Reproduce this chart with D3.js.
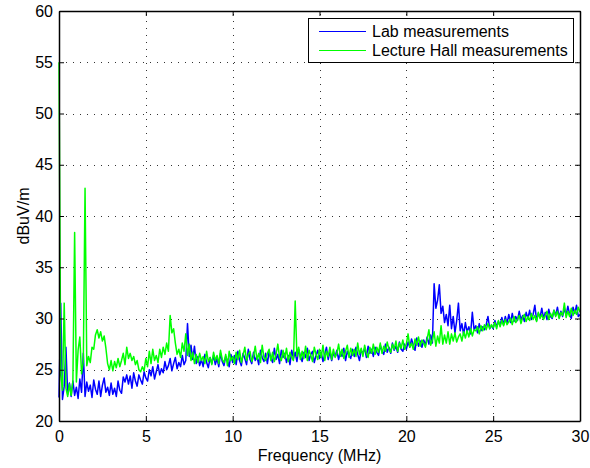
<!DOCTYPE html>
<html>
<head>
<meta charset="utf-8">
<script src="https://cdn.jsdelivr.net/npm/d3@7"></script>
<style>
  html, body { margin: 0; padding: 0; background: #fff; }
  text { font-family: "Liberation Sans", Arial, Helvetica, sans-serif; }
</style>
</head>
<body>
<svg id="chart" width="590" height="468"></svg>
<script>
// Frequency grid: 0 to 30 MHz in 0.1 MHz steps
const stepMHz = 0.1;

// Field strength, dBuV/m, lab measurements (one row per MHz)
const labValues = [
  22.3, 31.5, 22.1, 23.4, 27.2, 22.6, 23.7, 22.4, 23.9, 22.5,
  23.3, 22.2, 24.1, 22.8, 26.6, 22.4, 23.8, 22.9, 23.5, 22.3,
  24.0, 23.1, 22.6, 23.9, 22.4, 23.5, 24.2, 22.8, 23.3, 22.5,
  23.7, 22.6, 23.2, 22.4, 23.9, 23.0, 22.7, 24.3, 23.8, 24.5,
  23.6, 24.4, 23.2, 24.7, 23.9, 23.4, 24.5, 24.0, 23.6, 24.8,
  24.2, 23.9, 25.0, 24.4, 25.3, 24.1, 24.8, 25.5, 24.5, 25.1,
  24.7, 25.8, 25.0, 25.4, 26.1, 24.9, 25.6, 26.2, 25.1, 25.7,
  25.3, 26.4, 25.5, 25.9, 29.5, 26.3, 27.4, 26.0, 27.3, 25.6,
  26.3, 25.4, 26.0, 25.3, 26.5, 25.7, 25.2, 26.2, 25.6, 26.4,
  25.5, 26.1, 25.3, 26.6, 25.8, 25.4, 26.3, 25.9, 25.3, 26.5,
  25.7, 26.4, 25.5, 26.8, 25.9, 25.4, 26.6, 26.1, 25.5, 27.0,
  26.0, 25.6, 26.7, 25.9, 26.3, 25.5, 26.9, 26.2, 25.8, 26.6,
  25.6, 26.8, 26.1, 25.7, 27.1, 26.0, 26.5, 25.6, 26.9, 26.2,
  26.6, 25.7, 26.4, 25.5, 26.9, 26.1, 26.7, 25.8, 27.0, 26.3,
  25.8, 26.7, 26.2, 27.1, 25.9, 26.5, 26.8, 25.7, 26.4, 26.9,
  26.1, 26.7, 25.8, 26.5, 27.2, 26.0, 26.8, 25.9, 26.6, 26.3,
  26.9, 26.0, 26.7, 26.3, 27.1, 25.9, 26.8, 26.4, 26.1, 27.0,
  26.3, 27.2, 26.5, 25.9, 26.9, 26.6, 27.1, 26.2, 27.3, 26.6,
  27.0, 26.3, 27.2, 26.7, 26.4, 27.4, 26.8, 26.5, 27.5, 26.7,
  27.2, 26.6, 27.6, 26.9, 27.3, 26.7, 27.7, 27.0, 26.8, 27.5,
  27.0, 27.7, 27.2, 28.0, 27.4, 26.9, 28.1, 27.3, 27.8, 27.2,
  27.9, 27.4, 28.2, 27.5, 28.4, 27.6, 33.4, 31.0, 31.8, 33.3,
  30.5, 31.2, 29.6, 30.4, 29.3, 31.3, 29.0, 30.2, 28.6, 29.8,
  31.5, 28.8, 29.5, 28.4, 29.6, 28.7, 29.2, 28.5, 30.6, 28.9,
  29.3, 28.6, 29.5, 28.8, 29.2, 28.9, 29.4, 30.2, 29.0, 29.3,
  29.0, 29.8, 29.2, 29.7, 29.3, 30.1, 29.4, 30.2, 29.5, 30.4,
  29.6, 30.5, 29.7, 30.2, 29.8, 30.7, 29.9, 30.3, 29.7, 30.6,
  30.0, 30.8, 29.9, 30.4, 31.3, 29.8, 30.5, 30.1, 31.0, 30.0,
  30.6, 29.9, 30.9, 30.2, 30.0, 30.8, 30.3, 31.1, 30.1, 30.7,
  30.2, 31.0, 30.3, 31.2, 30.4, 30.0, 31.1, 30.5, 31.3, 30.2,
  30.4
];

// Field strength, dBuV/m, lecture hall measurements (one row per MHz)
const hallValues = [
  55.0, 24.5, 23.0, 31.5, 23.2, 22.4, 23.6, 22.5, 23.9, 38.4,
  23.8, 26.9, 28.2, 24.6, 25.8, 42.7, 25.4, 26.3, 25.7, 27.2,
  27.0, 28.4, 28.9, 28.1, 28.7, 27.8, 28.3, 27.1, 25.6, 25.0,
  25.9, 24.9, 25.8, 25.2, 26.1, 25.3, 25.9, 26.6, 25.5, 27.2,
  26.1, 26.6, 25.9, 26.3, 25.5, 25.9, 25.0, 24.8, 25.3, 24.9,
  26.1, 25.3, 26.8, 25.6, 27.0, 25.9, 26.4, 25.7, 27.0, 26.2,
  27.2, 26.5, 27.6, 26.8, 30.3, 28.6, 29.0, 27.6, 26.5, 27.0,
  26.2, 27.6, 26.8, 28.5, 26.4, 27.5, 25.9, 26.7, 25.6, 26.5,
  25.7, 26.6, 25.9, 26.3, 25.6, 26.8, 25.8, 26.2, 25.5, 26.7,
  25.9, 26.4, 25.6, 26.9, 26.0, 25.7, 26.5, 25.4, 26.8, 25.9,
  26.3, 25.6, 26.7, 26.0, 26.9, 25.7, 26.4, 27.2, 25.9, 26.5,
  26.8, 25.8, 26.3, 27.3, 26.0, 26.6, 25.7, 27.4, 26.2, 25.9,
  26.6, 27.0, 25.9, 26.7, 25.8, 26.5, 27.5, 26.2, 25.9, 26.9,
  26.1, 27.1, 25.8, 26.7, 26.2, 25.9, 31.7, 26.3, 27.2, 26.0,
  26.8, 26.1, 27.3, 25.9, 26.9, 26.4, 25.8, 27.2, 26.5, 26.0,
  27.0, 26.2, 27.4, 25.9, 26.8, 26.3, 27.2, 26.0, 27.0, 26.2,
  26.6, 27.5, 26.3, 27.0, 26.1, 26.8, 27.4, 26.2, 27.1, 26.4,
  27.0, 26.3, 27.6, 26.5, 27.1, 26.3, 27.4, 26.6, 26.2, 27.2,
  26.6, 27.5, 26.5, 27.2, 26.7, 27.6, 26.6, 27.3, 26.8, 27.7,
  27.0, 26.7, 27.5, 27.0, 27.8, 26.8, 27.6, 27.1, 27.9, 27.0,
  27.5, 28.5, 27.2, 27.6, 27.0, 28.0, 27.4, 28.2, 27.3, 27.9,
  27.6, 27.2, 28.0, 28.9, 27.4, 27.9, 28.7, 27.3, 28.3, 27.6,
  29.3, 27.5, 28.4, 27.6, 28.7, 27.5, 28.5, 27.8, 28.6, 27.7,
  28.2, 28.5, 27.8, 28.7, 28.1, 28.8, 28.2, 29.0, 28.3, 28.9,
  28.8, 29.2, 28.5, 29.3, 28.8, 29.4, 28.9, 29.5, 29.0, 29.4,
  29.1, 29.6, 29.0, 29.8, 29.2, 29.8, 29.3, 29.9, 29.4, 29.7,
  30.0, 29.4, 30.2, 29.6, 29.9, 30.3, 29.5, 30.1, 30.4, 29.7,
  30.2, 29.8, 30.5, 29.9, 30.3, 29.7, 30.6, 30.0, 30.4, 29.9,
  30.3, 30.7, 29.9, 30.5, 30.1, 30.8, 30.2, 30.7, 30.0, 30.6,
  30.3, 31.5, 30.1, 30.7, 30.2, 31.0, 30.3, 30.8, 30.4, 31.1,
  30.6
];

const seriesNames = ["Lab measurements", "Lecture Hall measurements"];
const seriesColors = ["#0000ff", "#00ff00"];
const xTicks = [0, 5, 10, 15, 20, 25, 30];
const yTicks = [20, 25, 30, 35, 40, 45, 50, 55, 60];

const svg = d3.select("#chart");
const plotLeft = 59, plotRight = 580, plotTop = 11, plotBottom = 421;

const x = d3.scaleLinear().domain([0, 30]).range([plotLeft, plotRight]);
const y = d3.scaleLinear().domain([20, 60]).range([plotBottom, plotTop]);

// Dotted grid
const grid = svg.append("g").attr("stroke", "#333").attr("stroke-width", 1)
  .attr("stroke-dasharray", "1,6").attr("shape-rendering", "crispEdges");
grid.selectAll(".gx").data(xTicks.slice(1, -1)).join("line")
  .attr("x1", d => Math.round(x(d)) + 0.5).attr("x2", d => Math.round(x(d)) + 0.5)
  .attr("y1", plotBottom).attr("y2", plotTop);
grid.selectAll(".gy").data(yTicks.slice(1, -1)).join("line")
  .attr("y1", d => Math.round(y(d)) + 0.5).attr("y2", d => Math.round(y(d)) + 0.5)
  .attr("x1", plotLeft).attr("x2", plotRight);

// Traces
const line = d3.line()
  .x((d, i) => x(i * stepMHz))
  .y(d => y(d));

const plot = svg.append("g");
[labValues, hallValues].forEach((vals, k) => {
  plot.append("path")
    .datum(vals)
    .attr("fill", "none")
    .attr("stroke", seriesColors[k])
    .attr("stroke-width", 1.5)
    .attr("stroke-linejoin", "round")
    .attr("d", line);
});

// Axes box with inward ticks on all four sides
const tickLen = 5;
const axisFont = 16;
const gB = svg.append("g").attr("transform", `translate(0,${plotBottom})`)
  .call(d3.axisBottom(x).tickValues(xTicks).tickSizeInner(-tickLen).tickSizeOuter(0).tickPadding(10));
const gT = svg.append("g").attr("transform", `translate(0,${plotTop})`)
  .call(d3.axisTop(x).tickValues(xTicks).tickSizeInner(-tickLen).tickSizeOuter(0).tickFormat(""));
const gL = svg.append("g").attr("transform", `translate(${plotLeft},0)`)
  .call(d3.axisLeft(y).tickValues(yTicks).tickSizeInner(-tickLen).tickSizeOuter(0).tickPadding(6));
const gR = svg.append("g").attr("transform", `translate(${plotRight},0)`)
  .call(d3.axisRight(y).tickValues(yTicks).tickSizeInner(-tickLen).tickSizeOuter(0).tickFormat(""));

[gB, gT, gL, gR].forEach(g => {
  g.select(".domain").attr("stroke", "#000").attr("stroke-width", 1.5);
  g.selectAll(".tick line").attr("stroke", "#000");
  g.selectAll("text").attr("font-size", axisFont).attr("fill", "#000")
    .attr("font-family", "Liberation Sans, Arial, sans-serif");
});

// Axis titles
svg.append("text")
  .attr("x", (plotLeft + plotRight) / 2).attr("y", 461)
  .attr("text-anchor", "middle").attr("font-size", axisFont)
  .text("Frequency (MHz)");
svg.append("text")
  .attr("transform", `translate(29,${(plotTop + plotBottom) / 2}) rotate(-90)`)
  .attr("text-anchor", "middle").attr("font-size", axisFont)
  .text("dBuV/m");

// Legend
const legend = svg.append("g");
legend.append("rect")
  .attr("x", 308.5).attr("y", 18.5).attr("width", 265).attr("height", 44)
  .attr("fill", "#fff").attr("stroke", "#000").attr("stroke-width", 1);
seriesNames.forEach((name, k) => {
  const cy = 31.5 + k * 19;
  legend.append("line")
    .attr("x1", 319).attr("x2", 366).attr("y1", cy).attr("y2", cy)
    .attr("stroke", seriesColors[k]).attr("stroke-width", 1.2);
  legend.append("text")
    .attr("x", 372).attr("y", cy + 5.5)
    .attr("font-size", axisFont).text(name);
});
</script>
</body>
</html>
